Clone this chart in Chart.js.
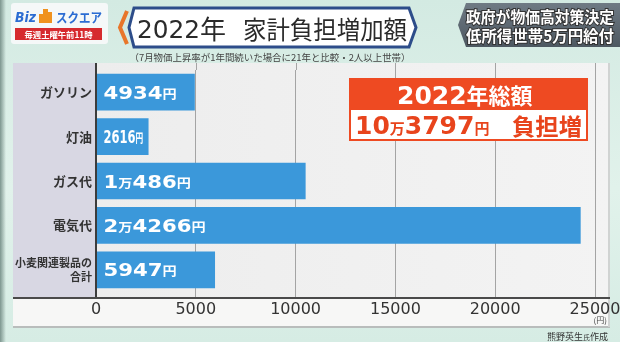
<!DOCTYPE html>
<html>
<head>
<meta charset="utf-8">
<script src="https://cdn.jsdelivr.net/npm/chart.js@4/dist/chart.umd.min.js"></script>
<style>
    html, body { margin: 0; padding: 0; }
    body {
        width: 620px; height: 342px; overflow: hidden; position: relative;
        background: linear-gradient(180deg, #d3eae2 0%, #e1f2eb 55%, #d6ece4 100%);
        font-family: "Noto Sans CJK JP", sans-serif;
    }
    #edge { position: absolute; left: 0; top: 0; width: 6px; height: 342px;
            background: linear-gradient(90deg, #7d968f, rgba(200,225,215,0)); }
    #chart { position: absolute; left: 0; top: 0; }
    #overlay { position: absolute; left: 0; top: 0; pointer-events: none; }
</style>
</head>
<body>
<div id="edge"></div>
<canvas id="chart" width="620" height="342"></canvas>

<svg id="overlay" width="620" height="342" viewBox="0 0 620 342">
    <!-- ロゴ -->
    <rect x="11" y="3" width="97" height="41" rx="3" fill="#f5f8f8"/>
    <text x="15" y="22" font-family="DejaVu Sans" font-weight="bold" font-style="italic" font-size="14"
          fill="#2b6cd2" textLength="21" lengthAdjust="spacingAndGlyphs">Biz</text>
    <path d="M39 23 L39 14 L43 14 L43 9 L48 9 L48 12 L52 12 L52 23 Z" fill="#f0921e"/>
    <text x="56" y="22" font-weight="bold" font-size="13" fill="#2b6cd2"
          textLength="46" lengthAdjust="spacingAndGlyphs">スクエア</text>
    <rect x="15" y="28" width="87" height="12" fill="#d62a2e"/>
    <text x="58.5" y="37.5" text-anchor="middle" font-size="8.5" font-weight="bold" fill="#fff"
          textLength="68" lengthAdjust="spacingAndGlyphs">毎週土曜午前11時</text>

    <!-- タイトル -->
    <polyline points="127,11 120,27.5 127,44" fill="none" stroke="#e8762a" stroke-width="4"/>
    <path d="M134 8 L409 8 L416 27.5 L409 47 L134 47 L129 27.5 Z" fill="#fff" stroke="#2d4d8a" stroke-width="3"/>
    <text x="137" y="38" font-family="DejaVu Sans" font-size="25" fill="#2a2a2a"
          textLength="63" lengthAdjust="spacingAndGlyphs">2022</text>
    <text x="200" y="39" font-size="26" fill="#2a2a2a">年</text>
    <text x="243" y="39" font-size="25" fill="#2a2a2a"
          textLength="164" lengthAdjust="spacingAndGlyphs">家計負担増加額</text>
    <text x="270" y="61" text-anchor="middle" font-size="9.5" fill="#444"
          textLength="281" lengthAdjust="spacingAndGlyphs">（7月物価上昇率が1年間続いた場合に21年と比較・2人以上世帯）</text>

    <!-- 右上 -->
    <defs>
        <linearGradient id="gray" x1="0" y1="0" x2="0" y2="1">
            <stop offset="0" stop-color="#6f7a84"/><stop offset="1" stop-color="#4d5861"/>
        </linearGradient>
    </defs>
    <path d="M466 3 L620 3 L620 47 L466 47 L458 25 Z" fill="url(#gray)"/>
    <text x="466" y="23" font-size="16" font-weight="bold" fill="#fff" stroke="#333" stroke-width="2"
          paint-order="stroke" textLength="148" lengthAdjust="spacingAndGlyphs">政府が物価高対策決定</text>
    <text x="466" y="42" font-size="16" font-weight="bold" fill="#fff" stroke="#333" stroke-width="2"
          paint-order="stroke" textLength="148" lengthAdjust="spacingAndGlyphs">低所得世帯5万円給付</text>

    <!-- 総額 -->
    <rect x="349" y="78" width="239" height="31" fill="#ee4a22"/>
    <rect x="350" y="109" width="237" height="31" fill="#fff" stroke="#ee4a22" stroke-width="2"/>
    <text x="397" y="104" fill="#fff" font-weight="bold">
        <tspan id="totYear" font-family="DejaVu Sans" font-size="25"></tspan><tspan font-size="22">年総額</tspan>
    </text>
    <text x="355" y="134" fill="#e8441c" font-weight="bold">
        <tspan id="totMan" font-family="DejaVu Sans" font-size="25"></tspan><tspan font-size="15">万</tspan><tspan id="totRest" font-family="DejaVu Sans" font-size="25"></tspan><tspan font-size="15">円</tspan>
    </text>
    <text x="512" y="135" fill="#e8441c" font-weight="bold" font-size="23"
          textLength="70" lengthAdjust="spacingAndGlyphs">負担増</text>

    <!-- 単位・出典 -->
    <text x="607" y="323" text-anchor="end" font-size="8" fill="#444">(円)</text>
    <text x="608" y="340" text-anchor="end" font-size="9" fill="#333">熊野英生<tspan font-size="7">氏</tspan>作成</text>
</svg>

<script>
/* ---- データ ---- */
const categories = ["ガソリン", "灯油", "ガス代", "電気代", ["小麦関連製品の", "合計"]];
const burdenYen = [4934, 2616, 10486, 24266, 5947];
const xTicks = [0, 5000, 10000, 15000, 20000, 25000];
const totalYear = 2022;
const totalYen = 103797;

const BIG = 'bold 18px "DejaVu Sans"';
const SMALL = 'bold 12px "Noto Sans CJK JP"';

/* 円表記 (1万486円 など) */
function yenParts(v) {
    const man = Math.floor(v / 10000), rest = v % 10000;
    const parts = [];
    if (man > 0) parts.push({ t: String(man), big: true }, { t: "万", big: false });
    parts.push({ t: String(rest), big: true }, { t: "円", big: false });
    return parts;
}

document.getElementById("totYear").textContent = totalYear;
document.getElementById("totMan").textContent = Math.floor(totalYen / 10000);
document.getElementById("totRest").textContent = totalYen % 10000;

/* 背景パネル・軸線・棒内ラベル */
const panel = {
    id: "panel",
    beforeDraw(chart) {
        const { ctx, chartArea: a } = chart;
        const axisY = a.bottom + 6;
        ctx.save();
        const g = ctx.createLinearGradient(13, 0, 610, 0);
        g.addColorStop(0, "#ececec");
        g.addColorStop(1, "#f3f3f3");
        ctx.fillStyle = g;
        ctx.fillRect(13, 63, 597, 264);
        ctx.fillStyle = "#f7f7f6";
        ctx.fillRect(13, axisY, 597, 327 - axisY);
        ctx.fillStyle = "#d8d7e3";
        ctx.fillRect(13, 63, a.left - 13, axisY - 63);
        ctx.fillStyle = "#b9bdbc";
        ctx.fillRect(13, 326, 597, 2);
        ctx.fillStyle = "#d0d3d2";
        ctx.fillRect(608, 63, 2, 264);
        ctx.restore();
    },
    beforeDatasetsDraw(chart) {
        // 目盛線をパネル上端まで延ばす
        const { ctx, chartArea: a, scales: { x } } = chart;
        ctx.save();
        ctx.strokeStyle = "#a4a4a4";
        ctx.lineWidth = 1;
        xTicks.forEach(v => {
            const px = Math.round(x.getPixelForValue(v)) + 0.5;
            ctx.beginPath();
            ctx.moveTo(px, 63);
            ctx.lineTo(px, a.top);
            ctx.stroke();
        });
        ctx.restore();
    },
    afterDatasetsDraw(chart) {
        const { ctx, chartArea: a, scales: { x } } = chart;
        const axisY = a.bottom + 6;
        ctx.save();
        ctx.strokeStyle = "#3c3c3c";
        ctx.lineWidth = 2;
        const x0 = x.getPixelForValue(0);
        ctx.beginPath();
        ctx.moveTo(x0, 63);
        ctx.lineTo(x0, axisY);
        ctx.stroke();
        ctx.strokeStyle = "#4a4a4a";
        ctx.beginPath();
        ctx.moveTo(13, axisY);
        ctx.lineTo(610, axisY);
        ctx.stroke();

        // 棒の中の金額
        const meta = chart.getDatasetMeta(0);
        meta.data.forEach((bar, i) => {
            const parts = yenParts(burdenYen[i]);
            let w = 0;
            parts.forEach(p => {
                ctx.font = p.big ? BIG : SMALL;
                p.w = ctx.measureText(p.t).width;
                w += p.w;
            });
            const room = bar.x - bar.base - 12;
            const sx = Math.min(1.18, room / w);
            ctx.save();
            ctx.translate(bar.base + 7, bar.y + 6.5);
            ctx.scale(sx, 1);
            ctx.fillStyle = "#fff";
            ctx.textBaseline = "alphabetic";
            let cx = 0;
            parts.forEach(p => {
                ctx.font = p.big ? BIG : SMALL;
                ctx.fillText(p.t, cx, 0);
                cx += p.w;
            });
            ctx.restore();
        });
        ctx.restore();
    }
};

new Chart(document.getElementById("chart"), {
    type: "bar",
    data: {
        labels: categories,
        datasets: [{
            data: burdenYen,
            backgroundColor: "#3b98da",
            borderWidth: 0,
            barThickness: 36
        }]
    },
    options: {
        indexAxis: "y",
        responsive: false,
        animation: false,
        layout: { padding: { left: 13, right: 25, top: 70, bottom: 0 } },
        plugins: { legend: { display: false }, tooltip: { enabled: false } },
        scales: {
            x: {
                min: 0, max: 25000,
                afterFit(scale) {
                    scale.height = 50;
                    scale.paddingLeft = 0;
                    scale.paddingRight = 0;
                },
                afterBuildTicks(scale) { scale.ticks = xTicks.map(v => ({ value: v })); },
                grid: { color: "#a4a4a4", lineWidth: 1, drawTicks: true, tickLength: 6, tickColor: "#a4a4a4" },
                border: { display: false },
                ticks: {
                    maxRotation: 0, autoSkip: false, padding: 2,
                    color: "#333",
                    font: { family: "DejaVu Sans", size: 16 },
                    callback: v => String(v)
                }
            },
            y: {
                afterFit(scale) { scale.width = 83; },
                grid: { display: false, drawTicks: false },
                border: { display: false },
                ticks: {
                    padding: 4,
                    color: "#333",
                    font: ctx => ({
                        family: "Noto Sans CJK JP", weight: "bold",
                        size: ctx.index === 4 ? 11 : 13, lineHeight: 1.2
                    })
                }
            }
        }
    },
    plugins: [panel]
});
</script>
</body>
</html>
